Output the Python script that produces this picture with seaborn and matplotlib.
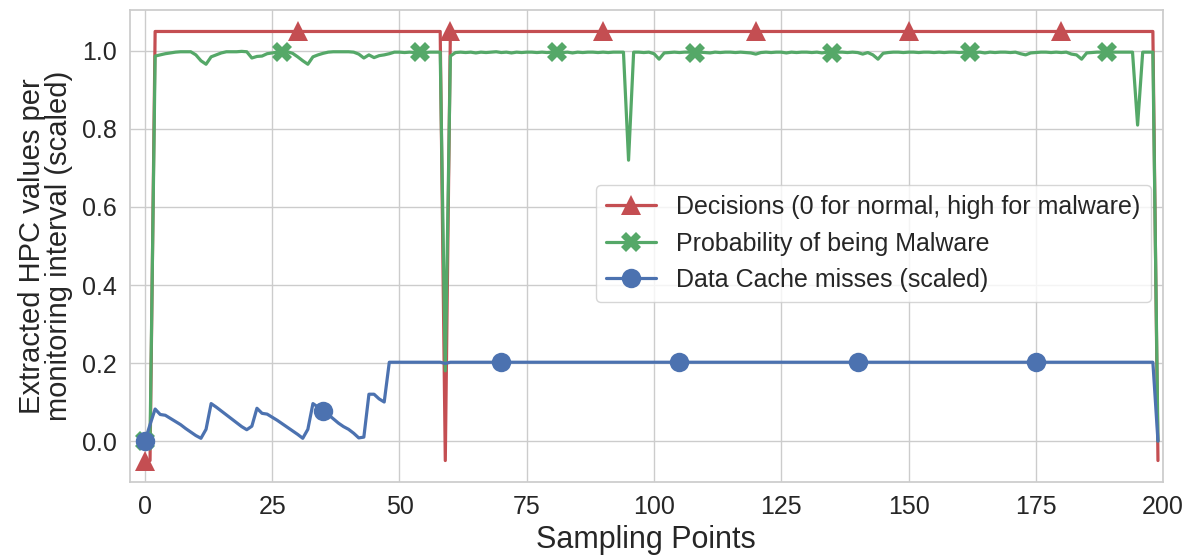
import matplotlib
matplotlib.use("Agg")
import matplotlib.pyplot as plt
import numpy as np
import pandas as pd
import seaborn as sns

# Per-sample values across the monitoring run (200 sampling points)
sampling_points = list(range(200))

decisions = [
    -0.05, -0.05, 1.05, 1.05, 1.05, 1.05, 1.05, 1.05, 1.05, 1.05,
    1.05, 1.05, 1.05, 1.05, 1.05, 1.05, 1.05, 1.05, 1.05, 1.05,
    1.05, 1.05, 1.05, 1.05, 1.05, 1.05, 1.05, 1.05, 1.05, 1.05,
    1.05, 1.05, 1.05, 1.05, 1.05, 1.05, 1.05, 1.05, 1.05, 1.05,
    1.05, 1.05, 1.05, 1.05, 1.05, 1.05, 1.05, 1.05, 1.05, 1.05,
    1.05, 1.05, 1.05, 1.05, 1.05, 1.05, 1.05, 1.05, 1.05, -0.05,
    1.05, 1.05, 1.05, 1.05, 1.05, 1.05, 1.05, 1.05, 1.05, 1.05,
    1.05, 1.05, 1.05, 1.05, 1.05, 1.05, 1.05, 1.05, 1.05, 1.05,
    1.05, 1.05, 1.05, 1.05, 1.05, 1.05, 1.05, 1.05, 1.05, 1.05,
    1.05, 1.05, 1.05, 1.05, 1.05, 1.05, 1.05, 1.05, 1.05, 1.05,
    1.05, 1.05, 1.05, 1.05, 1.05, 1.05, 1.05, 1.05, 1.05, 1.05,
    1.05, 1.05, 1.05, 1.05, 1.05, 1.05, 1.05, 1.05, 1.05, 1.05,
    1.05, 1.05, 1.05, 1.05, 1.05, 1.05, 1.05, 1.05, 1.05, 1.05,
    1.05, 1.05, 1.05, 1.05, 1.05, 1.05, 1.05, 1.05, 1.05, 1.05,
    1.05, 1.05, 1.05, 1.05, 1.05, 1.05, 1.05, 1.05, 1.05, 1.05,
    1.05, 1.05, 1.05, 1.05, 1.05, 1.05, 1.05, 1.05, 1.05, 1.05,
    1.05, 1.05, 1.05, 1.05, 1.05, 1.05, 1.05, 1.05, 1.05, 1.05,
    1.05, 1.05, 1.05, 1.05, 1.05, 1.05, 1.05, 1.05, 1.05, 1.05,
    1.05, 1.05, 1.05, 1.05, 1.05, 1.05, 1.05, 1.05, 1.05, 1.05,
    1.05, 1.05, 1.05, 1.05, 1.05, 1.05, 1.05, 1.05, 1.05, -0.05,
]

malware_probability = [
    0.0, 0.0, 0.987, 0.99, 0.993, 0.995, 0.997, 0.998, 0.998, 0.998,
    0.99, 0.975, 0.966, 0.985, 0.99, 0.995, 0.998, 0.998, 0.998, 0.999,
    0.998, 0.982, 0.986, 0.987, 0.993, 0.995, 0.997, 0.997, 0.998, 0.994,
    0.985, 0.975, 0.966, 0.985, 0.99, 0.994, 0.997, 0.998, 0.998, 0.998,
    0.998, 0.997, 0.992, 0.982, 0.99, 0.983, 0.988, 0.99, 0.993, 0.997,
    0.997, 0.996, 0.997, 0.996, 0.997, 0.996, 0.997, 0.997, 0.997, 0.18,
    0.987, 0.996, 0.997, 0.996, 0.997, 0.995, 0.997, 0.996, 0.997, 0.998,
    0.996, 0.997, 0.995, 0.997, 0.996, 0.997, 0.997, 0.996, 0.997, 0.996,
    0.997, 0.997, 0.996, 0.997, 0.995, 0.997, 0.996, 0.997, 0.997, 0.996,
    0.997, 0.996, 0.997, 0.997, 0.997, 0.72, 0.997, 0.997, 0.996, 0.997,
    0.993, 0.979, 0.995, 0.996, 0.997, 0.996, 0.997, 0.997, 0.996, 0.997,
    0.996, 0.995, 0.997, 0.996, 0.997, 0.997, 0.996, 0.997, 0.996, 0.995,
    0.992, 0.996, 0.997, 0.996, 0.997, 0.997, 0.995, 0.997, 0.996, 0.997,
    0.997, 0.996, 0.997, 0.995, 0.997, 0.996, 0.997, 0.997, 0.996, 0.997,
    0.996, 0.992, 0.996, 0.99, 0.979, 0.994, 0.996, 0.997, 0.997, 0.996,
    0.997, 0.997, 0.996, 0.997, 0.997, 0.996, 0.997, 0.996, 0.997, 0.997,
    0.996, 0.997, 0.997, 0.996, 0.997, 0.995, 0.997, 0.996, 0.997, 0.997,
    0.996, 0.997, 0.993, 0.99, 0.995, 0.996, 0.997, 0.997, 0.996, 0.997,
    0.996, 0.997, 0.992, 0.99, 0.979, 0.995, 0.996, 0.997, 0.997, 0.997,
    0.997, 0.997, 0.997, 0.997, 0.997, 0.81, 0.997, 0.997, 0.997, 0.0,
]

cache_misses = [
    0.0, 0.042, 0.082, 0.068, 0.066, 0.058, 0.05, 0.042, 0.032, 0.023,
    0.014, 0.007, 0.03, 0.096, 0.087, 0.077, 0.067, 0.057, 0.047, 0.037,
    0.029, 0.038, 0.084, 0.071, 0.069, 0.061, 0.053, 0.044, 0.035, 0.026,
    0.017, 0.007, 0.03, 0.096, 0.087, 0.078, 0.068, 0.057, 0.046, 0.037,
    0.03, 0.02, 0.008, 0.01, 0.12, 0.12, 0.108, 0.1, 0.202, 0.202,
    0.202, 0.202, 0.202, 0.202, 0.202, 0.202, 0.202, 0.202, 0.202, 0.199,
    0.202, 0.202, 0.202, 0.202, 0.202, 0.202, 0.202, 0.202, 0.202, 0.202,
    0.202, 0.202, 0.202, 0.202, 0.202, 0.202, 0.202, 0.202, 0.202, 0.202,
    0.202, 0.202, 0.202, 0.202, 0.202, 0.202, 0.202, 0.202, 0.202, 0.202,
    0.202, 0.202, 0.202, 0.202, 0.202, 0.202, 0.202, 0.202, 0.202, 0.202,
    0.202, 0.202, 0.202, 0.202, 0.202, 0.202, 0.202, 0.202, 0.202, 0.202,
    0.202, 0.202, 0.202, 0.202, 0.202, 0.202, 0.202, 0.202, 0.202, 0.202,
    0.202, 0.202, 0.202, 0.202, 0.202, 0.202, 0.202, 0.202, 0.202, 0.202,
    0.202, 0.202, 0.202, 0.202, 0.202, 0.202, 0.202, 0.202, 0.202, 0.202,
    0.202, 0.202, 0.202, 0.202, 0.202, 0.202, 0.202, 0.202, 0.202, 0.202,
    0.202, 0.202, 0.202, 0.202, 0.202, 0.202, 0.202, 0.202, 0.202, 0.202,
    0.202, 0.202, 0.202, 0.202, 0.202, 0.202, 0.202, 0.202, 0.202, 0.202,
    0.202, 0.202, 0.202, 0.202, 0.202, 0.202, 0.202, 0.202, 0.202, 0.202,
    0.202, 0.202, 0.202, 0.202, 0.202, 0.202, 0.202, 0.202, 0.202, 0.202,
    0.202, 0.202, 0.202, 0.202, 0.202, 0.202, 0.202, 0.202, 0.202, 0.0,
]

series_labels = [
    "Decisions (0 for normal, high for malware)",
    "Probability of being Malware",
    "Data Cache misses (scaled)",
]

sns.set_theme(style="whitegrid")
plt.rcParams["font.family"] = ["Liberation Sans", "DejaVu Sans"]

palette = sns.color_palette("deep")
red, green, blue = palette[3], palette[2], palette[0]

df = pd.DataFrame({
    "x": sampling_points,
    "decision": decisions,
    "prob": malware_probability,
    "dcm": cache_misses,
})

fig = plt.figure(figsize=(11.93, 5.57), dpi=100)
ax = fig.add_axes([0.1087, 0.1347, 0.8662, 0.8473])

style = dict(linewidth=2.3, markersize=14, markeredgewidth=0)
sns.lineplot(data=df, x="x", y="decision", ax=ax, color=red, marker="^",
             markevery=30, markeredgecolor=red, label=series_labels[0], **style)
sns.lineplot(data=df, x="x", y="prob", ax=ax, color=green, marker="X",
             markevery=27, markeredgecolor=green, label=series_labels[1], **style)
sns.lineplot(data=df, x="x", y="dcm", ax=ax, color=blue, marker="o",
             markevery=35, markeredgecolor=blue, label=series_labels[2], **style)

ax.set_xlim(-3, 200)
ax.set_ylim(-0.105, 1.105)
ax.set_xticks([0, 25, 50, 75, 100, 125, 150, 175, 200])
ax.set_yticks([0.0, 0.2, 0.4, 0.6, 0.8, 1.0])
ax.tick_params(axis="both", labelsize=18)
ax.set_xlabel("Sampling Points", fontsize=22, labelpad=4)
ax.set_ylabel("Extracted HPC values per\nmonitoring interval (scaled)",
              fontsize=21, linespacing=0.95, labelpad=6)

ax.legend(loc="center right", bbox_to_anchor=(1.0, 0.505), fontsize=18,
          handlelength=2.0, frameon=True)

fig.savefig("out.png", dpi=100)
